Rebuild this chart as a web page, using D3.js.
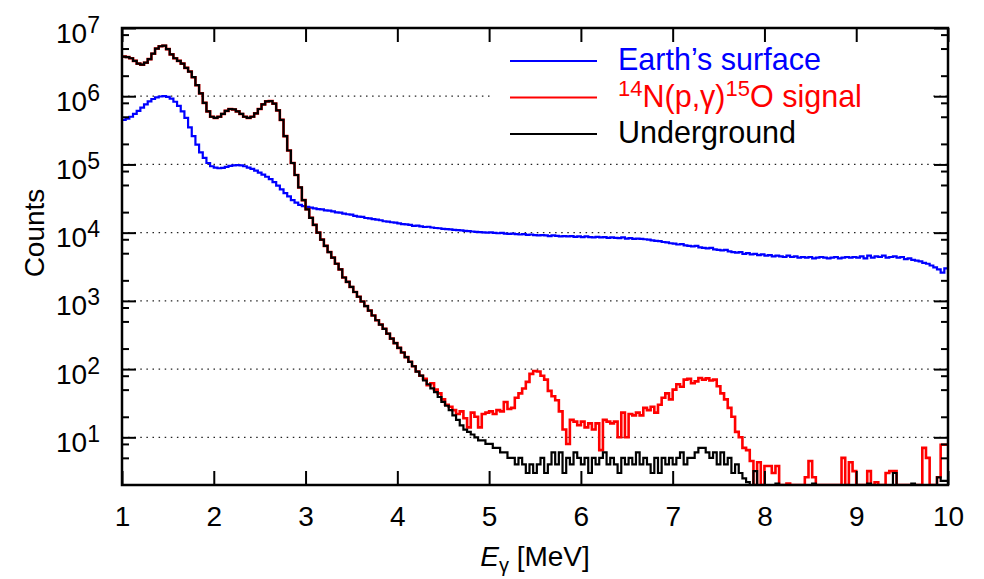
<!DOCTYPE html>
<html>
<head>
<meta charset="utf-8">
<script src="https://cdn.jsdelivr.net/npm/d3@7"></script>
<style>
  body { margin: 0; background: #fff; }
  svg { font-family: "Liberation Sans", Arial, Helvetica, sans-serif; }
</style>
</head>
<body>
<div id="chart"></div>
<script>
// histogram bins: 1.00 .. 10.00 MeV, 0.04 MeV wide
var E_START = 1.0;
var BIN_WIDTH = 0.04;

// Earth's surface spectrum
var surface = [
  4.5e5, 4.7e5, 5.0e5, 5.5e5, 6.1e5, 6.8e5, 7.6e5, 8.4e5, 9.1e5, 9.6e5,
  9.9e5, 1.0e6, 9.8e5, 9.2e5, 8.3e5, 7.2e5, 6.0e5, 4.8e5, 3.5e5, 2.6e5,
  1.95e5, 1.5e5, 1.25e5, 1.05e5, 9.4e4, 9.0e4, 8.8e4, 8.9e4, 9.2e4, 9.5e4,
  9.7e4, 9.8e4, 9.7e4, 9.4e4, 9.0e4, 8.6e4, 8.1e4, 7.6e4, 7.1e4, 6.6e4,
  6.1e4, 5.5e4, 4.9e4, 4.3e4, 3.8e4, 3.4e4, 3.0e4, 2.75e4, 2.55e4, 2.45e4,
  2.38e4, 2.33e4, 2.27e4, 2.22e4, 2.2e4, 2.12e4, 2.1e4, 2.05e4, 1.98e4, 1.96e4,
  1.9e4, 1.86e4, 1.84e4, 1.76e4, 1.72e4, 1.7e4, 1.64e4, 1.62e4, 1.58e4, 1.55e4,
  1.52e4, 1.47e4, 1.45e4, 1.42e4, 1.40e4, 1.37e4, 1.33e4, 1.32e4, 1.30e4, 1.26e4,
  1.27e4, 1.24e4, 1.21e4, 1.22e4, 1.19e4, 1.17e4, 1.16e4, 1.14e4, 1.13e4, 1.12e4,
  1.10e4, 1.09e4, 1.08e4, 1.06e4, 1.05e4, 1.04e4, 1.03e4, 1.02e4, 1.01e4, 1.00e4,
  1.01e4, 9.9e3, 9.8e3, 9.9e3, 9.7e3, 9.6e3, 9.7e3, 9.5e3, 9.4e3, 9.5e3,
  9.3e3, 9.4e3, 9.2e3, 9.1e3, 9.2e3, 9.1e3, 8.9e3, 9.1e3, 9.0e3, 8.8e3,
  8.9e3, 8.8e3, 8.9e3, 8.7e3, 8.8e3, 8.6e3, 8.8e3, 8.6e3, 8.5e3, 8.7e3,
  8.5e3, 8.6e3, 8.4e3, 8.5e3, 8.4e3, 8.3e3, 8.5e3, 8.2e3, 8.3e3, 8.1e3,
  8.2e3, 8.1e3, 8.0e3, 7.9e3, 7.7e3, 7.6e3, 7.5e3, 7.3e3, 7.2e3, 7.0e3,
  6.9e3, 6.7e3, 6.8e3, 6.5e3, 6.4e3, 6.3e3, 6.4e3, 6.1e3, 6.0e3, 5.9e3,
  6.0e3, 5.7e3, 5.6e3, 5.5e3, 5.6e3, 5.3e3, 5.2e3, 5.1e3, 5.2e3, 4.9e3,
  5.0e3, 4.8e3, 4.9e3, 4.7e3, 4.8e3, 4.6e3, 4.7e3, 4.5e3, 4.6e3, 4.5e3,
  4.4e3, 4.6e3, 4.4e3, 4.5e3, 4.3e3, 4.4e3, 4.3e3, 4.4e3, 4.2e3, 4.3e3,
  4.4e3, 4.3e3, 4.2e3, 4.3e3, 4.4e3, 4.2e3, 4.3e3, 4.4e3, 4.3e3, 4.4e3,
  4.3e3, 4.5e3, 4.2e3, 4.6e3, 4.3e3, 4.5e3, 4.4e3, 4.6e3, 4.3e3, 4.4e3,
  4.5e3, 4.3e3, 4.4e3, 4.1e3, 4.2e3, 4.0e3, 3.9e3, 3.8e3, 3.6e3, 3.5e3,
  3.3e3, 3.1e3, 2.9e3, 2.6e3, 3.0e3
];

// 14N(p,gamma)15O signal spectrum (underground, beam on)
var signal = [
  3.8e6, 3.75e6, 3.6e6, 3.3e6, 3.0e6, 2.9e6, 3.1e6, 3.5e6, 4.2e6, 5.0e6,
  5.4e6, 5.5e6, 4.9e6, 4.1e6, 3.6e6, 3.3e6, 3.0e6, 2.6e6, 2.3e6, 1.9e6,
  1.45e6, 1.1e6, 8.0e5, 6.0e5, 5.0e5, 4.8e5, 5.0e5, 5.5e5, 6.1e5, 6.5e5,
  6.4e5, 6.0e5, 5.5e5, 5.0e5, 4.8e5, 5.0e5, 5.6e5, 6.5e5, 7.6e5, 8.4e5,
  8.5e5, 7.8e5, 6.2e5, 4.5e5, 2.6e5, 1.6e5, 1.05e5, 7.0e4, 4.6e4, 3.0e4,
  2.2e4, 1.65e4, 1.3e4, 1.0e4, 7.9e3, 6.4e3, 5.2e3, 4.3e3, 3.5e3, 2.9e3,
  2.2e3, 1.9e3, 1.6e3, 1.35e3, 1.15e3, 980, 840, 720, 610, 520,
  450, 390, 330, 280, 240, 205, 175, 150, 128, 110,
  92, 80, 72, 58, 62, 50, 44, 36, 30, 28,
  25, 22, 24, 19, 14, 23, 20, 14, 22, 23,
  24, 22, 25, 24, 33, 26, 27, 38, 44, 52,
  65, 85, 94, 92, 80, 70, 48, 40, 35, 24,
  13, 8, 18, 17, 15, 17, 14, 16, 13, 16,
  6.5, 18, 17, 16, 17, 10, 23, 10, 22, 21,
  23, 21, 27, 25, 28, 23, 30, 38, 44, 36,
  50, 60, 55, 70, 72, 62, 66, 74, 70, 73,
  68, 70, 56, 44, 36, 27, 20, 12, 10, 7,
  6.5, 4.5, 0, 4.3, 0, 3.8, 3.8, 3.0, 3.8, 0,
  0, 2.1, 0, 0, 0, 0, 2.6, 4.5, 2.6, 0,
  0, 0, 0, 0, 0, 0, 5, 0, 4.3, 3.2,
  0, 0, 0, 3.2, 0, 2.2, 0, 0, 3.0, 3.2,
  3.2, 0, 0, 0, 0, 0, 0, 0, 7, 5,
  0, 0, 2.6, 7.8, 7.8
];

// underground background spectrum
var underground = [
  3.8e6, 3.75e6, 3.6e6, 3.3e6, 3.0e6, 2.9e6, 3.1e6, 3.5e6, 4.2e6, 5.0e6,
  5.4e6, 5.5e6, 4.9e6, 4.1e6, 3.6e6, 3.3e6, 3.0e6, 2.6e6, 2.3e6, 1.9e6,
  1.45e6, 1.1e6, 8.0e5, 6.0e5, 5.0e5, 4.8e5, 5.0e5, 5.5e5, 6.1e5, 6.5e5,
  6.4e5, 6.0e5, 5.5e5, 5.0e5, 4.8e5, 5.0e5, 5.6e5, 6.5e5, 7.6e5, 8.4e5,
  8.5e5, 7.8e5, 6.2e5, 4.5e5, 2.6e5, 1.6e5, 1.05e5, 7.0e4, 4.6e4, 3.0e4,
  2.2e4, 1.65e4, 1.3e4, 1.0e4, 7.9e3, 6.4e3, 5.2e3, 4.3e3, 3.5e3, 2.9e3,
  2.2e3, 1.9e3, 1.6e3, 1.35e3, 1.15e3, 980, 840, 720, 610, 520,
  450, 390, 330, 280, 240, 205, 175, 150, 128, 110,
  92, 80, 68, 60, 52, 46, 39, 33, 29, 25,
  21, 18, 15, 13, 12, 11, 10, 9, 9, 8,
  8, 7, 7, 6, 6, 5, 5, 4, 5, 4,
  3, 4, 3, 4, 5, 3, 4, 6, 4, 6,
  3, 5, 4, 6, 5, 4, 5, 3, 5, 4,
  5, 6, 4, 5, 4, 3, 5, 4, 5, 4,
  6, 4, 5, 4, 3, 5, 3, 5, 4, 5,
  4, 5, 6, 4, 5, 5, 6, 7, 7, 6,
  5, 6, 4, 6, 4, 5, 3, 4, 3, 2.5,
  2.2, 0, 3.2, 0, 0, 0, 0, 0, 2.1, 0,
  0, 0, 0, 0, 0, 0, 0, 0, 2.1, 0,
  0, 0, 0, 0, 0, 0, 0, 0, 0, 0,
  0, 0, 0, 2.1, 0, 0, 0, 0, 0, 0,
  3.0, 0, 0, 0, 0, 2.1, 0, 0, 0, 0,
  0, 0, 2.6, 2.3, 2.3
];

var xTicks = [1, 2, 3, 4, 5, 6, 7, 8, 9, 10];
var yMajor = [1e1, 1e2, 1e3, 1e4, 1e5, 1e6, 1e7];
var yMinorMult = [2, 5, 8];

var seriesNames = ["Earth\u2019s surface", "signal", "Underground"];
var seriesColors = ["#0000ff", "#ff0000", "#000000"];

var W = 984, H = 579;
var L = 122, R = 948, T = 28, B = 485;

var svg = d3.select("#chart").append("svg")
    .attr("width", W)
    .attr("height", H);

var x = d3.scaleLinear().domain([1, 10]).range([L, R]);
var y = d3.scaleLog().domain([2, 1e7]).range([B, T]).clamp(true);

// minor tick values
var yMinor = [];
yMajor.forEach(function(d) {
    yMinorMult.forEach(function(m) {
        var v = d / 10 * m;
        if (v > 2 && v < 1e7) yMinor.push(v);
    });
});

// dotted grid
svg.append("g").selectAll("line")
    .data(yMajor.slice(0, 6))
    .enter().append("line")
    .attr("x1", L).attr("x2", R)
    .attr("y1", function(d) { return y(d); })
    .attr("y2", function(d) { return y(d); })
    .style("stroke", "#222")
    .style("stroke-width", 1.2)
    .style("stroke-dasharray", "1.5,4.6");

// histograms
svg.append("clipPath").attr("id", "clip")
    .append("rect").attr("x", L).attr("y", T).attr("width", R - L).attr("height", B - T);

function toPoints(arr) {
    var pts = arr.map(function(v, i) { return [E_START + i * BIN_WIDTH, v]; });
    pts.push([E_START + arr.length * BIN_WIDTH, arr[arr.length - 1]]);
    return pts;
}

var line = d3.line()
    .x(function(d) { return x(d[0]); })
    .y(function(d) { return y(Math.max(d[1], 1)); })
    .curve(d3.curveStepAfter);

[surface, signal, underground].forEach(function(arr, i) {
    svg.append("path")
        .datum(toPoints(arr))
        .attr("clip-path", "url(#clip)")
        .attr("d", line)
        .style("fill", "none")
        .style("stroke", seriesColors[i])
        .style("stroke-width", i === 1 ? 2.6 : 2.2)
        .style("stroke-linejoin", "miter");
});

// legend (opaque key box)
svg.append("rect")
    .attr("x", 492).attr("y", 42)
    .attr("width", 441).attr("height", 106)
    .style("fill", "#fff");

var legend = svg.append("g").attr("transform", "translate(510,70)");
seriesNames.forEach(function(name, i) {
    var g = legend.append("g").attr("transform", "translate(0," + (i * 36.5) + ")");
    g.append("line")
        .attr("x1", 0).attr("x2", 87)
        .attr("y1", -9).attr("y2", -9)
        .style("stroke", seriesColors[i])
        .style("stroke-width", 2.2);
    var t = g.append("text")
        .attr("x", 108)
        .style("font-size", "30.5px")
        .style("fill", seriesColors[i]);
    if (name === "signal") {
        t.append("tspan").attr("dy", -11).style("font-size", "22px").text("14");
        t.append("tspan").attr("dy", 11).text("N(p,\u03b3)");
        t.append("tspan").attr("dy", -11).style("font-size", "22px").text("15");
        t.append("tspan").attr("dy", 11).text("O signal");
    } else {
        t.text(name);
    }
});

// axes: ticks point inward
var xAxis = d3.axisBottom(x).tickValues(xTicks).tickSizeInner(-14).tickSizeOuter(0).tickPadding(21)
    .tickFormat(d3.format("d"));
var xTop = d3.axisTop(x).tickValues(xTicks).tickSizeInner(-14).tickSizeOuter(0).tickFormat("");
var yAxis = d3.axisLeft(y).tickValues(yMajor).tickSizeInner(-14).tickSizeOuter(0).tickPadding(22);
var yRight = d3.axisRight(y).tickValues(yMajor).tickSizeInner(-14).tickSizeOuter(0).tickFormat("");
var yMinL = d3.axisLeft(y).tickValues(yMinor).tickSizeInner(-7).tickSizeOuter(0).tickFormat("");
var yMinR = d3.axisRight(y).tickValues(yMinor).tickSizeInner(-7).tickSizeOuter(0).tickFormat("");

var gx = svg.append("g").attr("transform", "translate(0," + B + ")").call(xAxis);
svg.append("g").attr("transform", "translate(0," + T + ")").call(xTop);
var gy = svg.append("g").attr("transform", "translate(" + L + ",0)").call(yAxis);
svg.append("g").attr("transform", "translate(" + R + ",0)").call(yRight);
svg.append("g").attr("transform", "translate(" + L + ",0)").call(yMinL);
svg.append("g").attr("transform", "translate(" + R + ",0)").call(yMinR);

svg.selectAll(".domain").remove();
svg.selectAll(".tick line").style("stroke", "#000").style("stroke-width", 2);
svg.selectAll(".tick text").style("font-family", "Liberation Sans, Arial, sans-serif")
    .style("fill", "#000");

gx.selectAll(".tick text").style("font-size", "28px");

// y labels as 10^n
gy.selectAll(".tick text").each(function(d) {
    var t = d3.select(this);
    var n = Math.round(Math.log10(d));
    t.text(null).attr("dy", null).attr("x", -22).attr("y", 14)
        .style("font-size", "28px");
    t.append("tspan").text("10");
    t.append("tspan").attr("dy", -10).style("font-size", "23px").text(n);
});

// frame
svg.append("rect")
    .attr("x", L).attr("y", T)
    .attr("width", R - L).attr("height", B - T)
    .style("fill", "none")
    .style("stroke", "#000")
    .style("stroke-width", 2.5);

// axis titles
var xl = svg.append("text")
    .attr("x", (L + R) / 2).attr("y", 566)
    .attr("text-anchor", "middle")
    .style("font-size", "28px");
xl.append("tspan").style("font-style", "italic").text("E");
xl.append("tspan").attr("dy", 6).style("font-size", "20px").text("\u03b3");
xl.append("tspan").attr("dy", -6).text(" [MeV]");

svg.append("text")
    .attr("transform", "translate(44,233) rotate(-90)")
    .attr("text-anchor", "middle")
    .style("font-size", "28px")
    .text("Counts");
</script>
</body>
</html>
